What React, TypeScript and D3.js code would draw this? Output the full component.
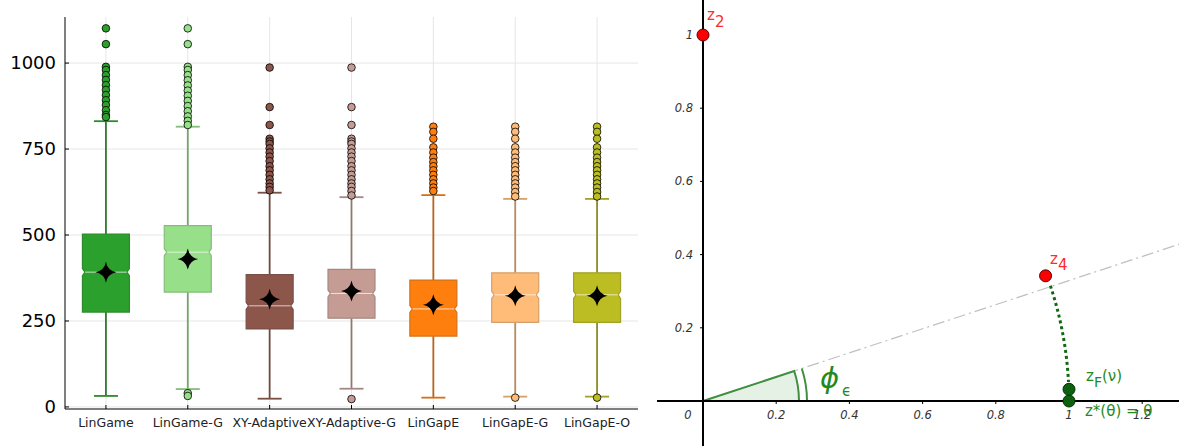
import React from 'react';
import * as d3 from 'd3';

// ---- left panel: box plot data ----
const categories = ["LinGame", "LinGame-G", "XY-Adaptive", "XY-Adaptive-G", "LinGapE", "LinGapE-G", "LinGapE-O"];
const fills = ["#2ca02c", "#98df8a", "#8c564b", "#c49c94", "#ff7f0e", "#ffbb78", "#bcbd22"];
const q1 = [276, 334, 227, 258, 206, 246, 246];
const medians = [392, 450, 294, 330, 285, 326, 326];
const q3 = [503, 527, 385, 400, 369, 390, 390];
const whiskerLow = [32, 52, 24, 53, 27, 30, 30];
const whiskerHigh = [831, 815, 623, 610, 616, 605, 605];
const means = [392, 430, 313, 337, 297, 323, 323];
const outliers = [
  [1101, 1055, 989, 980, 965, 951, 936, 922, 907, 892, 878, 863, 849, 843],
  [1101, 1055, 989, 980, 965, 950, 935, 920, 905, 890, 875, 860, 845, 832, 820, 40, 32],
  [987, 872, 820, 780, 772, 765, 752, 740, 728, 715, 700, 688, 675, 662, 650, 640, 630],
  [987, 872, 820, 780, 772, 765, 752, 740, 728, 715, 700, 688, 675, 662, 650, 640, 628, 615, 23],
  [815, 800, 780, 755, 740, 725, 712, 700, 688, 675, 662, 650, 638, 628],
  [815, 800, 780, 755, 740, 725, 712, 700, 688, 675, 662, 650, 638, 625, 612, 27],
  [815, 800, 780, 755, 740, 725, 712, 700, 688, 675, 662, 650, 638, 625, 612, 27],
];
const yTicks = [0, 250, 500, 750, 1000];

// ---- right panel: geometry annotation ----
const xTickVals = [0.2, 0.4, 0.6, 0.8, 1, 1.2];
const yTickVals = [0.2, 0.4, 0.6, 0.8, 1];
const z2 = [0, 1];
const z4 = [0.936, 0.342];
const zF = [1, 0.032];
const zStar = [1, 0];
const lineSlope = 0.329;

// 4-point star with slightly concave sides
const starPath = (R: number, r: number) => {
  let d = '';
  for (let i = 0; i < 4; i++) {
    const a = (i * Math.PI) / 2 - Math.PI / 2;
    const b = a + Math.PI / 2;
    const m = a + Math.PI / 4;
    const p = [R * Math.cos(a), R * Math.sin(a)];
    const q = [R * Math.cos(b), R * Math.sin(b)];
    const c = [r * Math.cos(m), r * Math.sin(m)];
    d += (i === 0 ? `M${p[0]},${p[1]}` : '') + `Q${c[0]},${c[1]} ${q[0]},${q[1]}`;
  }
  return d + 'Z';
};

const BoxPanel = () => {
  const left = 65, right = 638, top = 17, bottom = 409;
  const x = d3.scalePoint<string>().domain(categories).range([left, right]).padding(0.5);
  const y = d3.scaleLinear().domain([-6, 1134]).range([bottom, top]);
  const bw = 47;
  const star = starPath(10.5, 2.2);

  return (
    <g>
      {/* grid */}
      {categories.map(c => (
        <line key={c} x1={x(c)} x2={x(c)} y1={top} y2={bottom} stroke="#e6e6e6" strokeWidth={1} />
      ))}
      {yTicks.map(t => (
        <line key={t} x1={left} x2={right} y1={y(t)} y2={y(t)} stroke="#e6e6e6" strokeWidth={1} />
      ))}
      {categories.map((c, i) => {
        const cx = x(c)!;
        const fill = fills[i];
        const dark = d3.interpolateRgb(fill, "#333333")(0.35);
        const edge = d3.interpolateRgb(fill, "#333333")(0.2);
        const yq1 = y(q1[i]), yq3 = y(q3[i]), ym = y(medians[i]);
        const l = cx - bw / 2, r = cx + bw / 2, nh = 3.5, ni = 2.5;
        const box = d3.line()([
          [l, yq3], [r, yq3], [r, ym - nh], [r - ni, ym], [r, ym + nh], [r, yq1],
          [l, yq1], [l, ym + nh], [l + ni, ym], [l, ym - nh],
        ]) + 'Z';
        return (
          <g key={c}>
            <line x1={cx} x2={cx} y1={y(whiskerHigh[i])} y2={yq3} stroke={dark} strokeWidth={1.8} />
            <line x1={cx} x2={cx} y1={yq1} y2={y(whiskerLow[i])} stroke={dark} strokeWidth={1.8} />
            <line x1={cx - 12} x2={cx + 12} y1={y(whiskerHigh[i])} y2={y(whiskerHigh[i])} stroke={edge} strokeWidth={1.8} />
            <line x1={cx - 12} x2={cx + 12} y1={y(whiskerLow[i])} y2={y(whiskerLow[i])} stroke={edge} strokeWidth={1.8} />
            <path d={box} fill={fill} stroke={edge} strokeWidth={1.2} />
            <line x1={l + ni} x2={r - ni} y1={ym} y2={ym} stroke="#ffffff" strokeOpacity={0.7} strokeWidth={1} />
            {outliers[i].map((v, k) => (
              <circle key={k} cx={cx} cy={y(v)} r={3.8} fill={fill} stroke="#000" strokeWidth={0.8} />
            ))}
            <path d={star} transform={`translate(${cx},${y(means[i])})`} fill="#000" />
          </g>
        );
      })}
      {/* axes */}
      <line x1={left} x2={left} y1={top} y2={bottom} stroke="#000" strokeWidth={1} />
      <line x1={left} x2={right} y1={bottom} y2={bottom} stroke="#000" strokeWidth={1} />
      {yTicks.map(t => (
        <g key={t}>
          <line x1={left} x2={left + 4} y1={y(t)} y2={y(t)} stroke="#000" />
          <text x={56} y={y(t)} dy="0.35em" textAnchor="end" fontSize={18} fontFamily="DejaVu Sans" fill="#000">{t}</text>
        </g>
      ))}
      {categories.map(c => (
        <g key={c}>
          <line x1={x(c)} x2={x(c)} y1={bottom} y2={bottom - 4} stroke="#000" />
          <text x={x(c)} y={427} textAnchor="middle" fontSize={12.5} fontFamily="DejaVu Sans" fill="#222">{c}</text>
        </g>
      ))}
    </g>
  );
};

const GeoPanel = () => {
  const ox = 703, oy = 401, unit = 366;
  const sx = d3.scaleLinear().domain([0, 1]).range([ox, ox + unit]);
  const sy = d3.scaleLinear().domain([0, 1]).range([oy, oy - unit]);
  const tickFont = { fontSize: 11.5, fontStyle: 'italic', fontFamily: 'DejaVu Sans', fill: '#333' } as const;
  const green = "#1f8a1f";
  const ang = Math.atan(lineSlope);
  const wedge = d3.arc()({ innerRadius: 0, outerRadius: 96, startAngle: Math.PI / 2 - ang, endAngle: Math.PI / 2 }) as string;
  const outerArc = d3.arc()({ innerRadius: 104, outerRadius: 104, startAngle: Math.PI / 2 - ang, endAngle: Math.PI / 2 }) as string;
  const a4 = Math.atan2(z4[1], z4[0]) - 0.03;
  const aF = Math.atan2(zF[1], zF[0]) + 0.02;
  const arcPts = d3.range(0, 21).map(k => {
    const a = a4 + ((aF - a4) * k) / 20;
    return [sx(Math.cos(a)), sy(Math.sin(a))] as [number, number];
  });
  const xEnd = 1179;
  return (
    <g>
      {/* dash-dot ray */}
      <line x1={ox} y1={oy} x2={xEnd} y2={oy - lineSlope * (xEnd - ox)} stroke="#c0c0c0" strokeWidth={1.3} strokeDasharray="12,4,2,4" />
      {/* wedge */}
      <g transform={`translate(${ox},${oy})`}>
        <path d={wedge} fill="#2e8b2e" fillOpacity={0.12} stroke="#3f8f3f" strokeWidth={2} />
        <path d={outerArc} fill="none" stroke="#3f8f3f" strokeWidth={2} />
      </g>
      <text x={820} y={388} fontSize={29} fontStyle="italic" fontFamily="DejaVu Sans" fill={green}>ϕ</text>
      <text x={842} y={396} fontSize={15} fontFamily="DejaVu Sans" fill={green}>ϵ</text>
      {/* axes */}
      <line x1={ox} x2={ox} y1={0} y2={446} stroke="#000" strokeWidth={2} />
      <line x1={657} x2={1179} y1={oy} y2={oy} stroke="#000" strokeWidth={2} />
      {xTickVals.map(t => (
        <g key={t}>
          <line x1={sx(t)} x2={sx(t)} y1={oy} y2={oy + 3} stroke="#000" />
          <text x={sx(t)} y={419} textAnchor="middle" {...tickFont}>{t}</text>
        </g>
      ))}
      <text x={688} y={419} textAnchor="middle" {...tickFont}>0</text>
      {yTickVals.map(t => (
        <g key={t}>
          <line x1={ox - 3} x2={ox} y1={sy(t)} y2={sy(t)} stroke="#000" />
          <text x={693} y={sy(t)} dy="0.35em" textAnchor="end" {...tickFont}>{t}</text>
        </g>
      ))}
      {/* dotted arc z4 -> zF */}
      <path d={d3.line()(arcPts)!} fill="none" stroke="#0f6a0f" strokeWidth={3} strokeDasharray="3,3" />
      {/* points */}
      <circle cx={sx(z2[0])} cy={sy(z2[1])} r={6} fill="#ff0000" stroke="#5a0000" strokeWidth={1} />
      <circle cx={sx(z4[0])} cy={sy(z4[1])} r={6} fill="#ff0000" stroke="#5a0000" strokeWidth={1} />
      <circle cx={sx(zStar[0])} cy={sy(zStar[1])} r={6} fill="#0d600d" stroke="#053005" strokeWidth={1} />
      <circle cx={sx(zF[0])} cy={sy(zF[1])} r={6} fill="#0d600d" stroke="#053005" strokeWidth={1} />
      {/* labels */}
      <text x={707} y={20} fontSize={15} fontFamily="DejaVu Sans" fill="#ff2a2a">z<tspan dy={7}>2</tspan></text>
      <text x={1050} y={264} fontSize={15} fontFamily="DejaVu Sans" fill="#ff2a2a">z<tspan dy={6}>4</tspan></text>
      <text x={1086} y={381} fontSize={15} fontFamily="DejaVu Sans" fill={green}>z<tspan dy={6} fontSize={14}>F</tspan><tspan dy={-6}>(ν)</tspan></text>
      <text x={1085} y={416} fontSize={15} fontFamily="DejaVu Sans" fill={green}>z*(θ) = θ</text>
    </g>
  );
};

export default function App() {
  return (
    <div style={{ position: 'absolute', left: 0, top: 0 }}>
      <svg width={1179} height={446} style={{ display: 'block', background: '#fff' }}>
        <BoxPanel />
        <GeoPanel />
      </svg>
    </div>
  );
}
